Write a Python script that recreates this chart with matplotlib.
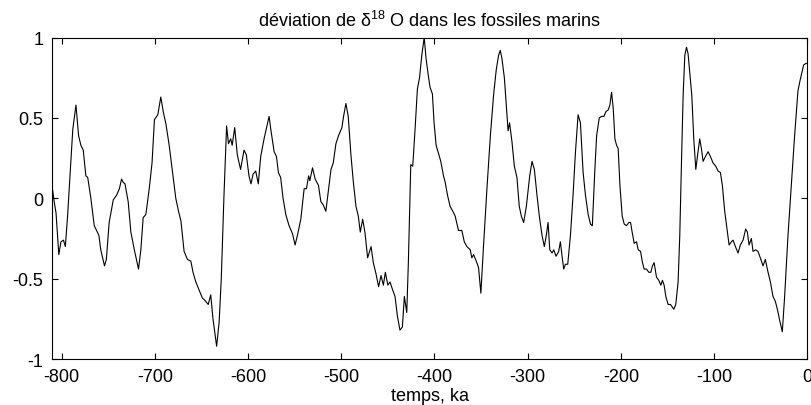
import numpy as np
import matplotlib.pyplot as plt

plt.rcParams['font.family'] = ['Liberation Sans', 'DejaVu Sans']
plt.rcParams['mathtext.default'] = 'regular'

# temps (ka) and deviation of d18O
ka = [-809.6, -808, -806, -803, -800.7, -798, -796, -793.6, -791, -788, -784.6, -781.8,
      -779.3, -776.8, -774, -772, -768.6, -765, -760, -758, -754, -752, -749, -744.6,
      -741, -738, -735.7, -734, -732, -728.6, -725.7, -722, -717.5, -715, -712.5, -709.6,
      -706, -703, -700.4, -696.8, -693.6, -691, -688, -684.6, -681, -677.5, -674.6, -672,
      -668.6, -665, -661.4, -659, -656, -652.5, -649, -647, -642.7, -640, -637.6, -633.7,
      -631, -628.7, -625.8, -623, -621, -618.6, -617, -614.3, -611.5, -608, -604.3, -601.8,
      -599, -596.8, -594.6, -591.8, -589, -586.4, -582.8, -579, -577.4, -575.6, -572, -569.5,
      -567.4, -565, -562.4, -559.5, -556, -552.3, -549.5, -547, -543.4, -539.8, -537.3, -535,
      -533.7, -530.8, -528, -524.4, -521.9, -519.4, -516.5, -513.6, -511, -508.6, -505.7,
      -502.9, -499.3, -497.5, -495, -492.5, -489.6, -487, -484.2, -481.7, -479.6, -477,
      -474.6, -471.7, -468, -465.6, -462.7, -459.9, -457.3, -454.8, -452.7, -450, -447.7,
      -444.8, -442.3, -439.8, -437, -434.4, -432.3, -430.8, -429.7, -428, -425.4, -423.3,
      -420.8, -418.3, -416, -413.6, -411, -409, -406.5, -404.7, -402.2, -400.4, -398.2,
      -395.7, -393.2, -390.3, -388.5, -386, -383.2, -380.3, -377.8, -374.2, -370.6, -368,
      -365.2, -361.6, -359.9, -358, -355.2, -352.7, -350.2, -347.3, -343.7, -340, -336.6,
      -333.7, -331.2, -329.4, -327.6, -325, -322.9, -321, -319.4, -316.8, -314.3, -311.5,
      -309, -306.8, -304.3, -301.4, -297.8, -295.3, -292.8, -290, -287.5, -284.6, -282.1,
      -280, -278.1, -276.3, -273.8, -272, -269.5, -266.7, -264.9, -263.1, -261.3, -259.5,
      -257, -254.1, -251.3, -248.7, -245.9, -243.4, -240.5, -238, -235.1, -232.6, -230.6,
      -227.9, -226, -223.2, -220.7, -218.2, -216, -213.6, -211.8, -210, -208.2, -206.4,
      -204.6, -202.9, -201, -198.6, -196.4, -194, -191.4, -189.6, -187.9, -185.7, -183.2,
      -181.4, -178.9, -176.8, -175, -172.5, -170, -167.9, -166.1, -164.3, -161.8, -159.3,
      -157.1, -155.4, -153.6, -151.8, -149.3, -146.8, -143.2, -141.1, -138.6, -136.8, -135,
      -133.2, -131.4, -129.6, -127.9, -126.1, -123.9, -121.8, -119.6, -117.9, -115.4, -113.6,
      -111.8, -109.3, -106.4, -103.9, -101.1, -98.2, -95.7, -93.2, -91.1, -88.6, -86.1,
      -83.9, -81.4, -79.6, -77.1, -74.3, -71.8, -68.9, -66.1, -64.3, -62.5, -60, -58.2,
      -55.4, -52.9, -50.4, -47.5, -45, -42.1, -39.6, -36.8, -34.3, -32.1, -29.6, -26.8,
      -24.3, -20.7, -17.1, -13.6, -10, -7.5, -3.9, -1.1, 0]
dev = [0.05, -0.02, -0.09, -0.35, -0.27, -0.26, -0.30, -0.11, 0.14, 0.43, 0.58, 0.39,
       0.33, 0.30, 0.14, 0.13, 0.0, -0.17, -0.23, -0.32, -0.42, -0.38, -0.15, -0.01,
       0.02, 0.06, 0.12, 0.10, 0.09, -0.02, -0.21, -0.32, -0.44, -0.32, -0.12, -0.10,
       0.06, 0.22, 0.49, 0.52, 0.63, 0.54, 0.46, 0.33, 0.16, 0.0, -0.08, -0.14,
       -0.33, -0.38, -0.39, -0.46, -0.52, -0.57, -0.62, -0.63, -0.66, -0.60, -0.75, -0.92,
       -0.77, -0.50, 0.02, 0.45, 0.34, 0.37, 0.33, 0.44, 0.27, 0.18, 0.30, 0.27,
       0.14, 0.09, 0.15, 0.17, 0.09, 0.26, 0.37, 0.47, 0.51, 0.43, 0.29, 0.26,
       0.16, 0.13, 0.0, -0.10, -0.17, -0.22, -0.29, -0.23, -0.13, 0.06, 0.06, 0.14,
       0.11, 0.19, 0.12, 0.08, -0.02, -0.04, -0.08, 0.06, 0.18, 0.22, 0.34,
       0.39, 0.44, 0.51, 0.59, 0.51, 0.27, 0.10, -0.05, -0.11, -0.21, -0.13,
       -0.21, -0.37, -0.30, -0.40, -0.47, -0.55, -0.48, -0.54, -0.46, -0.54, -0.52,
       -0.57, -0.61, -0.73, -0.82, -0.80, -0.61, -0.67, -0.71, -0.40, 0.21, 0.20,
       0.43, 0.68, 0.75, 0.89, 1.0, 0.87, 0.76, 0.69, 0.65, 0.47, 0.33,
       0.28, 0.23, 0.14, 0.10, 0.02, -0.05, -0.08, -0.11, -0.20, -0.20, -0.27,
       -0.30, -0.32, -0.37, -0.35, -0.39, -0.43, -0.59, -0.29, 0.06, 0.39, 0.64,
       0.80, 0.89, 0.92, 0.87, 0.75, 0.58, 0.42, 0.47, 0.35, 0.20, 0.13,
       -0.05, -0.11, -0.15, -0.05, 0.14, 0.23, 0.18, 0.02, -0.11, -0.23, -0.30,
       -0.23, -0.15, -0.32, -0.34, -0.32, -0.36, -0.33, -0.27, -0.36, -0.44, -0.41,
       -0.41, -0.23, 0.02, 0.29, 0.52, 0.47, 0.16, 0.02, -0.10, -0.16, -0.17,
       0.18, 0.39, 0.50, 0.51, 0.51, 0.54, 0.55, 0.58, 0.66, 0.56, 0.37,
       0.33, 0.31, 0.08, -0.11, -0.16, -0.17, -0.15, -0.15, -0.21, -0.28, -0.27,
       -0.32, -0.33, -0.40, -0.44, -0.44, -0.46, -0.46, -0.42, -0.40, -0.49, -0.51,
       -0.54, -0.51, -0.54, -0.61, -0.66, -0.66, -0.69, -0.66, -0.52, -0.23, 0.22,
       0.64, 0.89, 0.94, 0.90, 0.78, 0.64, 0.37, 0.18, 0.26, 0.37, 0.31,
       0.23, 0.26, 0.29, 0.26, 0.22, 0.20, 0.17, 0.16, 0.08, -0.08, -0.19,
       -0.29, -0.27, -0.26, -0.30, -0.34, -0.29, -0.26, -0.19, -0.21, -0.29, -0.25, -0.33,
       -0.32, -0.33, -0.37, -0.42, -0.38, -0.46, -0.52, -0.61, -0.64, -0.69, -0.76, -0.83,
       -0.61, -0.23, 0.08, 0.39, 0.67, 0.74, 0.83, 0.84, 0.84]

fig = plt.figure(figsize=(8.12, 4.06), dpi=100)
ax = fig.add_axes([0.0644, 0.113, 0.9298, 0.792])
ax.plot(ka, dev, color='black', lw=0.8)
ax.set_xlim(-810, 0)
ax.set_ylim(-1, 1)
ax.set_xticks(np.arange(-800, 1, 100))
ax.set_yticks([-1, -0.5, 0, 0.5, 1])
ax.set_yticklabels(['-1', '-0.5', '0', '0.5', '1'])
ax.set_xticklabels([str(v) for v in range(-800, 1, 100)])
ax.tick_params(direction='in', top=True, right=True, length=4, width=0.8,
               labelsize=13)
ax.tick_params(axis='x', pad=6.5)
ax.tick_params(axis='y', pad=6.5)
for s in ax.spines.values():
    s.set_linewidth(0.8)
ax.set_title('déviation de δ$^{18}$ O dans les fossiles marins', fontsize=13, pad=8.5)
ax.set_xlabel('temps, ka', fontsize=13, labelpad=1.5)
fig.savefig('out.png', dpi=100)
